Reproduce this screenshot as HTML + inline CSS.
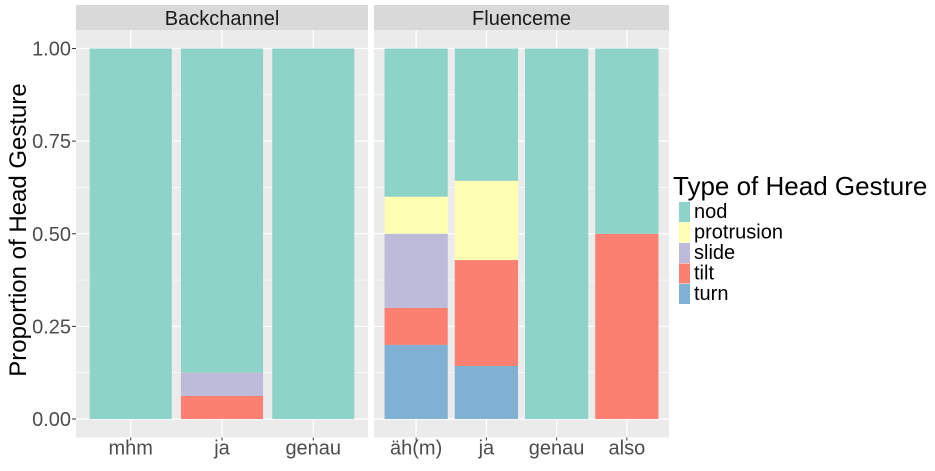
<!DOCTYPE html>
<html><head><meta charset="utf-8"><style>body{margin:0;background:#fff}svg{font-family:"Liberation Sans",sans-serif}</style></head>
<body>
<svg id="c" width="935" height="466"></svg>
<script>
const keys=["turn","tilt","slide","protrusion","nod"];
const colors={nod:"#8DD3C7",protrusion:"#FFFFB3",slide:"#BEBADA",tilt:"#FB8072",turn:"#80B1D3"};
const panelNames=["Backchannel","Fluenceme"];
const bcCats=["mhm","ja","genau"];
const bcTurn=[0,0,0];const bcTilt=[0,0.0625,0];const bcSlide=[0,0.0625,0];const bcProt=[0,0,0];const bcNod=[1,0.875,1];
const flCats=["äh(m)","ja","genau","also"];
const flTurn=[0.2,0.143,0,0];const flTilt=[0.1,0.286,0,0.5];const flSlide=[0.2,0,0,0];const flProt=[0.1,0.214,0,0];const flNod=[0.4,0.357,1,0.5];
const yTicks=[0,0.25,0.5,0.75,1];const yTickLabels=["0.00","0.25","0.50","0.75","1.00"];
const legendKeys=["nod","protrusion","slide","tilt","turn"];
const svg=document.getElementById('c');const NS="http://www.w3.org/2000/svg";
function mk(t,a,txt){const e=document.createElementNS(NS,t);for(const k in a)e.setAttribute(k,a[k]);if(txt!=null)e.textContent=txt;svg.appendChild(e);return e;}
const plotTop=30,plotBot=437.5;
function y(v){return plotBot-(v+0.05)/1.1*(plotBot-plotTop);}
const panels=[{x0:76,x1:368,cats:bcCats,s:[bcTurn,bcTilt,bcSlide,bcProt,bcNod]},{x0:374,x1:669,cats:flCats,s:[flTurn,flTilt,flSlide,flProt,flNod]}];
panels.forEach((p,pi)=>{
  let r=mk('rect',{x:p.x0,y:plotTop,width:p.x1-p.x0,height:plotBot-plotTop,fill:"#EBEBEB"});
  
  
  let s=mk('rect',{x:p.x0,y:5,width:p.x1-p.x0,height:plotTop-5,fill:"#D9D9D9"});
  
  
  let st=mk('text',{x:(p.x0+p.x1)/2,y:25,"text-anchor":"middle","font-size":20,fill:"#1A1A1A"},panelNames[pi]);
  
  
  for(let i=0;i<yTicks.length-1;i++){const v=(yTicks[i]+yTicks[i+1])/2;mk('line',{x1:p.x0,x2:p.x1,y1:y(v),y2:y(v),stroke:"#fff","stroke-width":0.6});}
  yTicks.forEach(v=>mk('line',{x1:p.x0,x2:p.x1,y1:y(v),y2:y(v),stroke:"#fff","stroke-width":1.2}));
  const unit=(p.x1-p.x0)/(p.cats.length+0.2);
  p.cats.forEach((c,i)=>{
    const cx=p.x0+unit*(i+0.6);
    mk('line',{x1:cx,x2:cx,y1:plotTop,y2:plotBot,stroke:"#fff","stroke-width":1.2});
    let cum=0;
    keys.forEach((k,ki)=>{const v=p.s[ki][i];if(v>0){
      const b=mk('rect',{x:cx-unit*0.45,y:y(cum+v),width:unit*0.9,height:y(cum)-y(cum+v),fill:colors[k]});
      
      
      cum+=v;}});
    mk('line',{x1:cx,x2:cx,y1:plotBot,y2:plotBot+3,stroke:"#333"});
    const t=mk('text',{x:cx,y:plotBot+17,"text-anchor":"middle","font-size":20,fill:"#4D4D4D"},c);
    
    
  });
});
yTicks.forEach((v,i)=>{mk('line',{x1:72,x2:76,y1:y(v),y2:y(v),stroke:"#333"});
  const t=mk('text',{x:71,y:y(v)+7,"text-anchor":"end","font-size":20,fill:"#4D4D4D"},yTickLabels[i]);
  
  });
const yt=mk('text',{x:0,y:0,transform:"translate(26,230) rotate(-90)","text-anchor":"middle","font-size":24,fill:"#000"},"Proportion of Head Gesture");


const lt=mk('text',{x:673,y:195,"font-size":26,fill:"#000"},"Type of Head Gesture");


legendKeys.forEach((k,i)=>{const yy=202+i*20.5;
  const r=mk('rect',{x:679,y:yy,width:11,height:20,fill:colors[k]});
  
  
  const t=mk('text',{x:694,y:yy+16,"font-size":20,fill:"#000"},k);
  
  });
</script>
</body></html>
